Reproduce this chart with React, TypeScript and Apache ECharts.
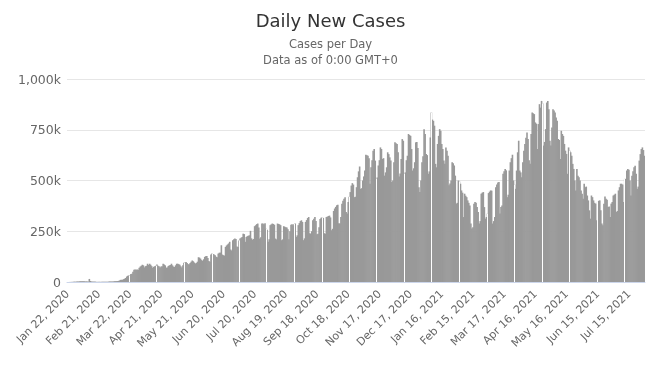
import React, { useEffect, useRef } from "react";
import * as echarts from "echarts";

// Daily new cases, in thousands, one value per day from Jan 22, 2020
const casesJanToApr2020 = [
  0.6, 0.1, 0.3, 0.5, 0.7, 0.8, 1.5, 1.7, 1.7, 2.0,
  2.1, 2.6, 3.2, 3.9, 3.7, 3.2, 3.4, 2.7, 3.0, 2.6,
  2.0, 15.1, 5.0, 2.6, 2.1, 2.0, 1.9, 1.8, 0.6, 0.9,
  1.0, 1.0, 0.6, 0.8, 0.9, 1.0, 1.1, 1.4, 1.8, 1.8,
  2.4, 1.9, 2.5, 2.4, 2.7, 3.8, 3.9, 4.2, 4.6, 5.2,
  7.5, 10.5, 10.9, 11.0, 14.0, 16.5, 20.0, 27.0, 31.0, 32.0,
  33.5, 40, 41, 50, 60, 62, 60, 62, 60, 70,
  76, 80, 85, 82, 72, 78, 80, 90, 84, 90,
  85, 78, 70, 75, 78, 80, 86, 80, 78, 72,
  76, 78, 90, 86, 82, 70, 72, 79, 82, 84,
];
const casesMayToJul2020 = [
  90, 82, 76, 74, 82, 90, 90, 88, 85, 78,
  72, 82, 95, 96, 98, 93, 88, 87, 94, 100,
  106, 102, 96, 91, 94, 100, 122, 120, 115, 108,
  104, 112, 124, 127, 128, 118, 104, 100, 136, 140,
  138, 135, 132, 124, 122, 140, 144, 145, 181, 135,
  132, 130, 173, 180, 185, 190, 198, 160, 155, 206,
  210, 214, 212, 175, 172, 205, 214, 218, 222, 238,
  236, 198, 222, 226, 228, 230, 252, 215, 208, 212,
  275, 280, 285, 288, 268, 214, 220, 288, 288, 285,
  290, 262, 258, 198, 210, 280, 284, 288, 286, 282,
];
const casesAugToOct2020 = [
  214, 210, 288, 286, 284, 280, 206, 210, 275, 272,
  270, 268, 260, 210, 250, 282, 285, 280, 286, 288,
  222, 230, 280, 290, 300, 304, 296, 206, 215, 296,
  305, 315, 320, 240, 238, 250, 304, 312, 320, 300,
  235, 238, 270, 310, 317, 318, 316, 240, 238, 320,
  322, 325, 327, 318, 255, 262, 350, 362, 370, 378,
  380, 290, 288, 320, 385, 400, 410, 418, 345, 338,
  394, 420, 443, 475, 487, 480, 418, 420, 467, 516,
  545, 569, 459, 462, 500, 520, 549, 627, 625, 622,
  610, 484, 565, 600, 647, 655, 598, 508, 515, 574,
];
const casesNov2020ToFeb2021 = [
  600, 663, 655, 606, 610, 524, 540, 565, 639, 630,
  614, 598, 492, 500, 590, 688, 684, 680, 639, 520,
  535, 606, 704, 696, 533, 540, 600, 622, 729, 724,
  720, 655, 549, 560, 590, 688, 690, 660, 467, 443,
  500, 590, 620, 753, 729, 631, 625, 533, 545, 712,
  835, 800, 794, 770, 582, 565, 680, 720, 753, 745,
  680, 655, 598, 582, 663, 647, 622, 476, 485, 500,
  590, 585, 574, 524, 386, 390, 500, 495, 484, 451,
  440, 320, 435, 425, 418, 402, 390, 377, 288, 263,
  270, 386, 394, 390, 369, 345, 288, 300, 435, 440,
];
const casesFebToMay2021 = [
  443, 369, 312, 320, 337, 438, 445, 451, 450, 288,
  300, 320, 467, 480, 490, 492, 337, 369, 377, 533,
  545, 557, 550, 418, 430, 549, 590, 610, 627, 500,
  480, 459, 549, 639, 696, 549, 540, 516, 590, 647,
  680, 710, 737, 704, 600, 582, 729, 835, 831, 827,
  786, 780, 655, 778, 876, 859, 892, 880, 672, 690,
  753, 884, 892, 851, 696, 672, 761, 851, 845, 835,
  810, 794, 704, 700, 606, 745, 729, 720, 680, 647,
  631, 533, 663, 647, 639, 622, 582, 557, 500, 451,
  557, 524, 516, 500, 451, 435, 410, 484, 467, 470,
];
const casesJunToJul2021 = [
  426, 402, 353, 312, 426, 418, 402, 390, 386, 304,
  394, 400, 402, 353, 288, 280, 386, 421, 410, 405,
  369, 372, 320, 386, 394, 426, 430, 435, 345, 350,
  451, 467, 484, 484, 480, 394, 508, 508, 549, 557,
  553, 500, 426, 524, 545, 565, 573, 533, 459, 470,
  598, 630, 655, 663, 650, 622,
];

const dailyCases = [
  ...casesJanToApr2020,
  ...casesMayToJul2020,
  ...casesAugToOct2020,
  ...casesNov2020ToFeb2021,
  ...casesFebToMay2021,
  ...casesJunToJul2021,
];

const monthNames = ["Jan", "Feb", "Mar", "Apr", "May", "Jun", "Jul", "Aug", "Sep", "Oct", "Nov", "Dec"];
const startDate = Date.UTC(2020, 0, 22);
const categories = dailyCases.map((_, i) => {
  const d = new Date(startDate + i * 86400000);
  return `${monthNames[d.getUTCMonth()]} ${d.getUTCDate()}, ${d.getUTCFullYear()}`;
});

// y axis ticks (thousands)
const yTicks = [0, 250, 500, 750, 1000];
// days where the column rendering shows a thin white gap
const gapIndices = [59, 85, 112, 139, 165, 191, 218, 245, 271, 297, 324, 350, 377, 404, 430, 457, 483, 510, 536];

const FONT = "'DejaVu Sans', 'Lucida Grande', Arial, sans-serif";

export default function App() {
  const ref = useRef<HTMLDivElement>(null);
  useEffect(() => {
    if (!ref.current) return;
    const chart = echarts.init(ref.current, undefined, { renderer: "svg" });
    chart.setOption({
      animation: false,
      textStyle: { fontFamily: FONT },
      title: [
        {
          text: "Daily New Cases",
          left: "center",
          top: 10,
          padding: 0,
          textStyle: { fontSize: 18, fontWeight: "normal", color: "#333333", fontFamily: FONT, lineHeight: 20 },
        },
        {
          text: "Cases per Day",
          left: "center",
          top: 37,
          padding: 0,
          textStyle: { fontSize: 11.5, fontWeight: "normal", color: "#666666", fontFamily: FONT, lineHeight: 13 },
        },
        {
          text: "Data as of 0:00 GMT+0",
          left: "center",
          top: 53,
          padding: 0,
          textStyle: { fontSize: 11.5, fontWeight: "normal", color: "#666666", fontFamily: FONT, lineHeight: 13 },
        },
      ],
      grid: { left: 67, right: 16, top: 79, bottom: 84, containLabel: false },
      xAxis: {
        type: "category",
        data: categories,
        boundaryGap: true,
        z: 5,
        axisLine: { show: true, lineStyle: { color: "#ccd6eb", width: 1 } },
        axisTick: { show: false },
        splitLine: { show: false },
        axisLabel: {
          interval: 29,
          rotate: 45,
          color: "#666666",
          fontSize: 11,
          margin: 10,
          fontFamily: FONT,
        },
      },
      yAxis: {
        type: "value",
        min: yTicks[0],
        max: yTicks[yTicks.length - 1],
        interval: yTicks[1] - yTicks[0],
        axisLine: { show: false },
        axisTick: { show: false },
        splitLine: { lineStyle: { color: "#e6e6e6", width: 1 } },
        axisLabel: {
          color: "#666666",
          fontSize: 12.5,
          margin: 6,
          fontFamily: FONT,
          formatter: (v: number) => (v === 0 ? "0" : v.toLocaleString("en-US") + "k"),
        },
      },
      series: [
        {
          type: "bar",
          data: dailyCases,
          barWidth: 1.6,
          barGap: "-100%",
          itemStyle: { color: "#999999" },
          silent: true,
          emphasis: { disabled: true },
          markLine: {
            silent: true,
            symbol: "none",
            label: { show: false },
            lineStyle: { color: "#ffffff", width: 1, type: "solid" },
            emphasis: { disabled: true },
            data: gapIndices.map((i) => [
              { coord: [categories[i], 0] },
              { coord: [categories[i], dailyCases[i]] },
            ]),
          },
        },
      ],
    });
    return () => chart.dispose();
  }, []);
  return <div ref={ref} style={{ position: "fixed", left: 0, top: 0, width: 661, height: 366 }} />;
}
